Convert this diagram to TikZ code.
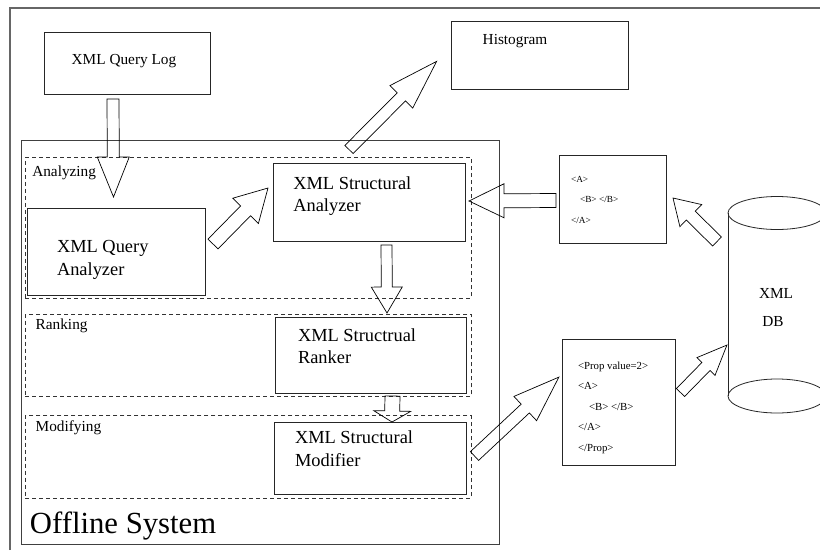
\documentclass[tikz,border=0pt]{standalone}
\usepackage{fontspec}
\setmainfont{Liberation Serif}
\usetikzlibrary{calc}
% hollow block arrow: #1 tail, #2 tip, #3 shaft half width, #4 head half width, #5 head length (pt)
\newcommand{\blockarrow}[5]{%
  \path let \p1=($(#2)-(#1)$) in \pgfextra{%
    \pgfmathsetmacro\tmpbaang{atan2(\y1,\x1)}%
    \pgfmathsetmacro\tmpbalen{veclen(\x1,\y1)}%
    \global\let\baAng\tmpbaang \global\let\baLen\tmpbalen};
  \draw[barrowst, shift={(#1)}, rotate=\baAng]
    (0pt,#3pt) -- ({\baLen pt-#5pt},#3pt) -- ({\baLen pt-#5pt},#4pt) -- (\baLen pt,0pt)
    -- ({\baLen pt-#5pt},-#4pt) -- ({\baLen pt-#5pt},-#3pt) -- (0pt,-#3pt) -- cycle;
}
\begin{document}
\begin{tikzpicture}[x=1pt,y=-1pt,
  boxst/.style={draw=black!85, line width=0.8pt, inner sep=0pt, outer sep=0pt, anchor=north west},
  dashbox/.style={draw=black!80, line width=0.8pt, dash pattern=on 4pt off 3pt, inner sep=0pt, outer sep=0pt, anchor=north west},
  barrowst/.style={draw=black, line width=0.7pt, line join=miter},
  lbl/.style={inner sep=0pt, outer sep=0pt, anchor=base west},
  big/.style={font=\fontsize{18.4}{22}\selectfont},
  mid/.style={font=\fontsize{15.3}{18}\selectfont},
  small/.style={font=\fontsize{9.3}{11}\selectfont},
  smalltwo/.style={font=\fontsize{10.8}{12}\selectfont}]
\useasboundingbox (0,0) rectangle (820,550);
\fill[white] (0,0) rectangle (820,550);
% outer frame
\draw[black!60, line width=1.6pt] (10,550) -- (10,8) -- (820,8);

% top boxes
\node[boxst, minimum width=166pt, minimum height=62pt] (qlog) at (44,32) {};
\node[lbl, mid] (tqlog) at (71.7,64.5) {XML Query Log};
\node[boxst, minimum width=177pt, minimum height=68pt] (hist) at (451,21) {};
\node[lbl, mid] (thist) at (482.7,44) {Histogram};

% offline system
\node[boxst, draw=black!75, minimum width=478pt, minimum height=404pt] (offline) at (21.3,140.7) {};
\node[lbl, font=\fontsize{30.7}{34}\selectfont] (toff) at (30,533) {Offline System};

% dashed stages
\node[dashbox, minimum width=445.7pt, minimum height=141pt] (stana) at (25.3,157.3) {};
\node[lbl, mid] (tstana) at (32.3,176) {Analyzing};
\node[dashbox, minimum width=445.7pt, minimum height=82.4pt] (strank) at (25.3,314.3) {};
\node[lbl, mid] (tstrank) at (35.7,329.3) {Ranking};
\node[dashbox, minimum width=445.7pt, minimum height=82.6pt] (stmod) at (25.3,415.7) {};
\node[lbl, mid] (tstmod) at (35.7,431) {Modifying};

% inner boxes
\node[boxst, minimum width=178pt, minimum height=87pt] (qana) at (27,208) {};
\node[lbl, big] (tqana1) at (57,252) {XML Query};
\node[lbl, big] (tqana2) at (57,275) {Analyzer};

\node[boxst, minimum width=192pt, minimum height=78pt] (sana) at (273,163) {};
\node[lbl, big] (tsana1) at (293.3,189) {XML Structural};
\node[lbl, big] (tsana2) at (293.3,211) {Analyzer};

\node[boxst, minimum width=191pt, minimum height=76pt] (rank) at (275,317) {};
\node[lbl, big] (trank1) at (298,341) {XML Structrual};
\node[lbl, big] (trank2) at (298,363) {Ranker};

\node[boxst, minimum width=192pt, minimum height=72pt] (modi) at (274,422) {};
\node[lbl, big] (tmodi1) at (295,443) {XML Structural};
\node[lbl, big] (tmodi2) at (295,466) {Modifier};

% documents
\node[boxst, minimum width=107pt, minimum height=88pt] (doca) at (559,155) {};
\node[lbl, small] (da1) at (571,182) {<A>};
\node[lbl, small] (da2) at (580,202) {<B> </B>};
\node[lbl, small] (da3) at (571,223) {</A>};

\node[boxst, minimum width=113pt, minimum height=126pt] (docb) at (562,339) {};
\node[lbl, smalltwo] (db1) at (578,369) {<Prop value=2>};
\node[lbl, smalltwo] (db2) at (578,389) {<A>};
\node[lbl, smalltwo] (db3) at (589,410) {<B> </B>};
\node[lbl, smalltwo] (db4) at (578,430) {</A>};
\node[lbl, smalltwo] (db5) at (578,451) {</Prop>};

% database cylinder
\node[inner sep=0pt, minimum width=98pt, minimum height=200pt] (db) at (777,305) {};
\begin{scope}
  \clip (0,0) rectangle (820,550);
  \draw[black!85, line width=0.8pt] (777,213) ellipse [x radius=49pt, y radius=16.5pt];
  \draw[black!85, line width=0.8pt] (777,396) ellipse [x radius=49pt, y radius=17pt];
  \draw[black!85, line width=0.8pt] (728,213) -- (728,396);
  \draw[black!85, line width=0.8pt] (826,213) -- (826,396);
\end{scope}
\node[anchor=base, inner sep=0pt, mid] (tdb1) at (776,298.3) {XML};
\node[anchor=base, inner sep=0pt, mid] (tdb2) at (773,326.7) {DB};

% arrow end points
\coordinate (a1s) at (113,99);    \coordinate (a1e) at (113.5,197);
\coordinate (a2s) at (213,244);   \coordinate (a2e) at (268,188);
\coordinate (a3s) at (349,149.5); \coordinate (a3e) at (437,61);
\coordinate (a4s) at (556,200.5); \coordinate (a4e) at (469,201);
\coordinate (a5s) at (717,241.5); \coordinate (a5e) at (673,198);
\coordinate (a6s) at (386.5,245); \coordinate (a6e) at (387,313);
\coordinate (a7s) at (392.5,396); \coordinate (a7e) at (392,422);
\coordinate (a8s) at (474.5,456); \coordinate (a8e) at (559,377);
\coordinate (a9s) at (680.5,392.5); \coordinate (a9e) at (727,345);

\blockarrow{a1s}{a1e}{6}{16}{40}
\blockarrow{a2s}{a2e}{7}{18}{32}
\blockarrow{a3s}{a3e}{5.8}{16}{50}
\blockarrow{a4s}{a4e}{7}{17}{35}
\blockarrow{a5s}{a5e}{6.3}{15.5}{25}
\blockarrow{a6s}{a6e}{5.5}{15.5}{26}
\blockarrow{a7s}{a7e}{7.5}{18.5}{11}
\blockarrow{a8s}{a8e}{6}{16.6}{46}
\blockarrow{a9s}{a9e}{5.7}{12.7}{30}
\end{tikzpicture}
\end{document}
